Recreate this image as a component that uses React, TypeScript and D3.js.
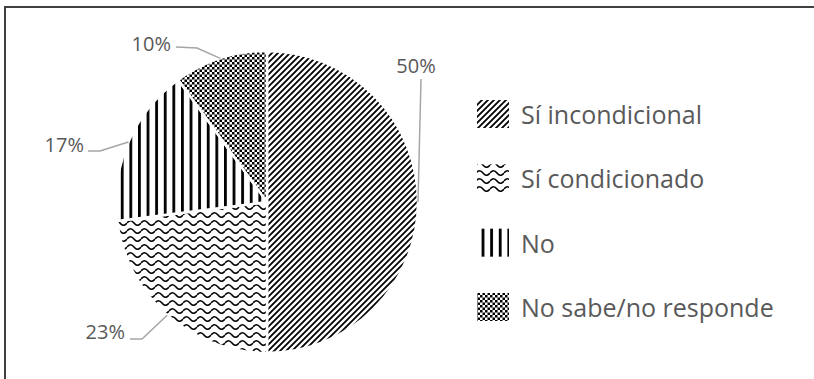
import React from "react";
import * as d3 from "d3";

const categories = ["Sí incondicional", "Sí condicionado", "No", "No sabe/no responde"];
const values = [50, 23, 17, 10];
const labels = ["50%", "23%", "17%", "10%"];
const patternIds = ["pDiag", "pWave", "pVert", "pCheck"];

// label layout: text anchor point + elbow (layout only)
const labelLayout = [
  { tx: 416, ty: 73, anchor: "middle", elbow: [[421, 79]] },
  { tx: 125, ty: 339, anchor: "end", elbow: [[130, 339], [142, 339]] },
  { tx: 84, ty: 152, anchor: "end", elbow: [[88, 151], [100, 151]] },
  { tx: 171, ty: 51, anchor: "end", elbow: [[176, 47], [197, 48]] },
];

const W = 814;
const H = 379;
const cx = 267;
const cy = 202;
const R = 151;

export default function App() {
  const pie = d3.pie<number>().sort(null).startAngle(0).endAngle(2 * Math.PI);
  const arcs = pie(values);
  const arc = d3.arc<d3.PieArcDatum<number>>().innerRadius(0).outerRadius(R);
  const font = "'Open Sans', 'Noto Sans', sans-serif";
  const textColor = "#595959";
  const legendY = d3.scalePoint<string>().domain(categories).range([114, 307]);

  return (
    <svg width={W} height={H} style={{ position: "absolute", left: 0, top: 0, background: "#fff" }}>
      <defs>
        <pattern id="pDiag" patternUnits="userSpaceOnUse" width={6} height={6}>
          <rect width={6} height={6} fill="#fff" />
          <path d="M-1,7 L7,-1 M-1,1 L1,-1 M5,7 L7,5" stroke="#000" strokeWidth={1.8} />
        </pattern>
        <pattern id="pWave" patternUnits="userSpaceOnUse" width={14} height={8}>
          <rect width={14} height={8} fill="#fff" />
          <path d="M0,5 Q3.5,0.5 7,5 T14,5" fill="none" stroke="#000" strokeWidth={1.6} />
        </pattern>
        <pattern id="pVert" patternUnits="userSpaceOnUse" width={8.6} height={10}>
          <rect width={8.6} height={10} fill="#fff" />
          <rect x={0} width={2.8} height={10} fill="#000" />
        </pattern>
        <pattern id="pCheck" patternUnits="userSpaceOnUse" width={5} height={5}>
          <rect width={5} height={5} fill="#fff" />
          <rect x={0} y={0} width={2.5} height={2.5} fill="#000" />
          <rect x={2.5} y={2.5} width={2.5} height={2.5} fill="#000" />
        </pattern>
      </defs>
      <path d={`M5,${H + 2} L5,7 L${W + 2},7`} fill="none" stroke="#404040" strokeWidth={2} />
      <g transform={`translate(${cx},${cy})`}>
        {arcs.map((a, i) => (
          <path key={i} d={arc(a) || ""} fill={`url(#${patternIds[i]})`} stroke="#fff" strokeWidth={2.5} />
        ))}
      </g>
      {arcs.map((a, i) => {
        const mid = (a.startAngle + a.endAngle) / 2;
        const ex = cx + R * Math.sin(mid);
        const ey = cy - R * Math.cos(mid);
        const L = labelLayout[i];
        const pts = [...L.elbow, [ex, ey]];
        const line = d3.line()(pts as [number, number][]) || "";
        return (
          <g key={i}>
            <path d={line} fill="none" stroke="#a6a6a6" strokeWidth={1.5} />
            <text x={L.tx} y={L.ty} textAnchor={L.anchor as any} fontFamily={font} fontSize={20} fill={textColor}>
              {labels[i]}
            </text>
          </g>
        );
      })}
      {categories.map((c, i) => {
        const y = legendY(c) as number;
        return (
          <g key={c}>
            <rect x={477} y={y - 14} width={32} height={28} fill={`url(#${patternIds[i]})`} />
            <text x={521} y={y} dominantBaseline="central" fontFamily={font} fontSize={25} fill={textColor}>
              {c}
            </text>
          </g>
        );
      })}
    </svg>
  );
}
